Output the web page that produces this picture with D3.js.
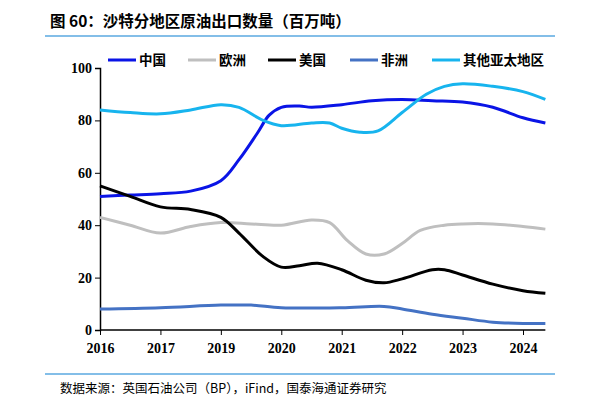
<!DOCTYPE html>
<html><head><meta charset="utf-8">
<script src="https://cdn.jsdelivr.net/npm/d3@7"></script>
<style>body{margin:0;background:#fff}</style>
</head><body><div id="chart"></div>
<script>
const tickLabels = ["2016","2017","2019","2020","2021","2022","2023","2024"]
const seriesNames = ["中国","欧洲","美国","非洲","其他亚太地区"]
const colors = ["#0a14e6","#bfbfbf","#000000","#4472c4","#17b4ee"]
// t = position in tick units, v = million tonnes
const china = [[0,51],[0.5,51.5],[1,52],[1.5,53],[2,57],[2.3,65],[2.6,75],[2.8,82],[3,85],[3.3,85.5],[3.5,85],[4,86],[4.5,87.5],[5,88],[5.5,87.5],[6,87],[6.5,85],[7,81],[7.37,79]]
const europe = [[0,43],[0.5,40],[1,37],[1.5,39.5],[2,41],[2.5,40.5],[3,40],[3.5,42],[3.8,41],[4.1,34],[4.4,29],[4.7,29],[5,33],[5.3,38],[5.7,40],[6,40.5],[6.5,40.5],[7,39.5],[7.37,38.5]]
const usa = [[0,55],[0.5,51],[1,47],[1.5,46],[2,43],[2.3,37],[2.7,28],[3,24],[3.3,24.5],[3.6,25.5],[4,23],[4.4,19],[4.7,18],[5,19.5],[5.5,23],[5.7,23],[6,21],[6.5,17.5],[7,15],[7.37,14]]
const africa = [[0,8],[1,8.5],[2,9.5],[2.5,9.5],[3,8.5],[4,8.5],[4.7,9],[5,8],[5.5,6],[6,4.5],[6.5,3],[7,2.5],[7.37,2.5]]
const otherAsia = [[0,84],[0.5,83],[1,82.5],[1.5,84],[2,86],[2.3,85],[2.7,80],[3,78],[3.5,79],[3.8,79],[4,77],[4.3,75.5],[4.6,76],[5,83],[5.4,90],[5.7,93],[6,94],[6.5,93],[7,91],[7.37,88]]
const series = [china, europe, usa, africa, otherAsia]
const yTicks = [0,20,40,60,80,100]

const svg = d3.select("#chart").append("svg").attr("width", 611).attr("height", 408)
const font = "'Noto Sans CJK SC', sans-serif"
const serif = "'Liberation Serif', serif"

svg.append("text").attr("x", 50).attr("y", 27).attr("font-family", font)
    .attr("font-size", 15.5).attr("font-weight", "bold").text("图 60：沙特分地区原油出口数量（百万吨）")
svg.append("line").attr("x1", 45).attr("x2", 555).attr("y1", 36).attr("y2", 36)
    .attr("stroke", "#5aa9e0").attr("stroke-width", 1.5)
svg.append("line").attr("x1", 45).attr("x2", 555).attr("y1", 374).attr("y2", 374)
    .attr("stroke", "#5aa9e0").attr("stroke-width", 1.5)
svg.append("text").attr("x", 60).attr("y", 393).attr("font-family", font)
    .attr("font-size", 12.5).text("数据来源：英国石油公司（BP），iFind，国泰海通证券研究")

const x = d3.scaleLinear().domain([0, 7]).range([100, 523])
const y = d3.scaleLinear().domain([0, 100]).range([330, 68])

const xAxis = svg.append("g").attr("transform", "translate(0,330)")
    .call(d3.axisBottom(x).tickValues(d3.range(8)).tickFormat(i => tickLabels[i]).tickSize(5))
xAxis.select(".domain").attr("d", `M${x(0)},0H${x(7.37)}`).attr("stroke-width", 1.5)
xAxis.selectAll("text").attr("font-family", serif).attr("font-weight", "bold").attr("font-size", 14).attr("dy", "1.1em")

const yAxis = svg.append("g").attr("transform", "translate(100,0)")
    .call(d3.axisLeft(y).tickValues(yTicks).tickSize(5))
yAxis.select(".domain").attr("stroke-width", 1.5)
yAxis.selectAll("text").attr("font-family", serif).attr("font-weight", "bold").attr("font-size", 14)

const line = d3.line().x(d => x(d[0])).y(d => y(d[1])).curve(d3.curveCatmullRom)
series.forEach((s, i) => {
    svg.append("path").datum(s).attr("d", line).attr("fill", "none")
        .attr("stroke", colors[i]).attr("stroke-width", 3)
})

const legendX = [108, 188, 268, 350, 432]
seriesNames.forEach((n, i) => {
    const g = svg.append("g").attr("transform", `translate(${legendX[i]},60)`)
    g.append("line").attr("x1", 0).attr("x2", 28).attr("stroke", colors[i]).attr("stroke-width", 3)
    g.append("text").attr("x", 31).attr("y", 5).attr("font-family", font).attr("font-weight", "bold")
        .attr("font-size", 13.5).text(n)
})
</script></body></html>
